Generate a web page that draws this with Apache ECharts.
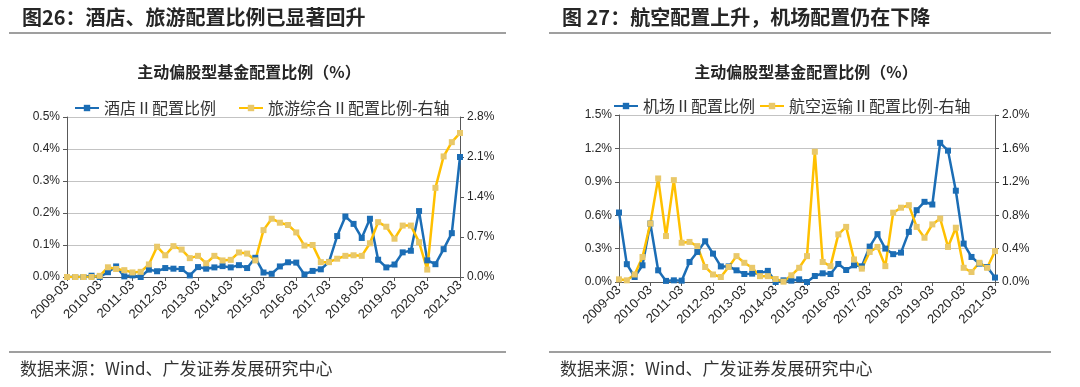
<!DOCTYPE html>
<html>
<head>
<meta charset="utf-8">
<script src="https://cdn.jsdelivr.net/npm/echarts@6/dist/echarts.min.js"></script>
<style>
html,body{margin:0;padding:0;background:#fff;}
#c{width:1080px;height:387px;}
</style>
</head>
<body>
<div id="c"></div>
<script>
const categories = [
 '2009-03','2009-06','2009-09','2009-12','2010-03','2010-06','2010-09','2010-12',
 '2011-03','2011-06','2011-09','2011-12','2012-03','2012-06','2012-09','2012-12',
 '2013-03','2013-06','2013-09','2013-12','2014-03','2014-06','2014-09','2014-12',
 '2015-03','2015-06','2015-09','2015-12','2016-03','2016-06','2016-09','2016-12',
 '2017-03','2017-06','2017-09','2017-12','2018-03','2018-06','2018-09','2018-12',
 '2019-03','2019-06','2019-09','2019-12','2020-03','2020-06','2020-09','2020-12',
 '2021-03'];

// Left chart (%)
const hotel = [0, 0, 0, 0.004, 0, 0.015, 0.033, 0.002, 0.005, 0,
 0.023, 0.018, 0.028, 0.026, 0.025, 0.005, 0.031, 0.026, 0.03, 0.034,
 0.03, 0.037, 0.028, 0.06, 0.014, 0.01, 0.033, 0.046, 0.045, 0.008,
 0.019, 0.024, 0.047, 0.128, 0.189, 0.166, 0.122, 0.182, 0.054, 0.03,
 0.039, 0.077, 0.082, 0.206, 0.052, 0.04, 0.087, 0.137, 0.375];
const tourism = [0, 0, 0, 0, 0.02, 0.17, 0.14, 0.12, 0.08, 0.09,
 0.22, 0.53, 0.38, 0.54, 0.48, 0.33, 0.37, 0.24, 0.37, 0.29,
 0.30, 0.43, 0.41, 0.29, 0.82, 1.02, 0.95, 0.91, 0.78, 0.55,
 0.56, 0.26, 0.26, 0.32, 0.37, 0.38, 0.37, 0.59, 0.96, 0.88,
 0.67, 0.90, 0.90, 0.61, 0.13, 1.56, 2.11, 2.36, 2.52];

// Right chart (%)
const airport = [0.624, 0.16, 0.045, 0.15, 0.525, 0.105, 0.01, 0.015, 0.012, 0.18,
 0.27, 0.366, 0.255, 0.14, 0.14, 0.105, 0.072, 0.075, 0.08, 0.1,
 0.0, 0.015, 0.012, 0.024, 0.0, 0.054, 0.078, 0.072, 0.162, 0.108,
 0.15, 0.141, 0.318, 0.43, 0.30, 0.25, 0.264, 0.45, 0.645, 0.72,
 0.696, 1.25, 1.18, 0.82, 0.345, 0.225, 0.165, 0.135, 0.04];
const aviation = [0.032, 0.02, 0.09, 0.30, 0.70, 1.24, 0.55, 1.22, 0.47, 0.48,
 0.43, 0.18, 0.09, 0.06, 0.18, 0.31, 0.23, 0.17, 0.07, 0.07,
 0.036, 0.004, 0.08, 0.17, 0.31, 1.56, 0.24, 0.19, 0.57, 0.66,
 0.27, 0.16, 0.36, 0.42, 0.19, 0.83, 0.89, 0.92, 0.66, 0.53,
 0.69, 0.76, 0.42, 0.65, 0.17, 0.12, 0.23, 0.17, 0.37];

const names = {
  hotel: '酒店Ⅱ配置比例',
  tourism: '旅游综合Ⅱ配置比例-右轴',
  airport: '机场Ⅱ配置比例',
  aviation: '航空运输Ⅱ配置比例-右轴'
};
const panelTitles = ['图26：酒店、旅游配置比例已显著回升', '图 27：航空配置上升，机场配置仍在下降'];
const chartTitle = '主动偏股型基金配置比例（%）';
const sourceText = '数据来源：Wind、广发证券发展研究中心';

const BLUE = '#1B6DB5', YEL = '#FFC000', YELM = '#E9C869';
const NUM_FONT = 'Liberation Sans, Arial, sans-serif';
const CJK_FONT = '"Noto Sans CJK SC", sans-serif';

function xAxis(gi) {
  return {
    type: 'category', gridIndex: gi, data: categories, boundaryGap: false,
    axisLine: {lineStyle: {color: '#595959', width: 1}},
    axisTick: {interval: 3, length: 4, lineStyle: {color: '#595959'}},
    axisLabel: {interval: 3, rotate: 45, fontSize: 13, color: '#262626', fontFamily: NUM_FONT, margin: 6},
    splitLine: {show: false}
  };
}
function yAxis(gi, pos, max, itv, split) {
  return {
    type: 'value', gridIndex: gi, position: pos, min: 0, max: max, interval: itv,
    axisLine: {show: true, lineStyle: {color: '#595959', width: 1}},
    axisTick: {show: true, length: 4, lineStyle: {color: '#595959'}},
    axisLabel: {fontSize: 12, color: '#262626', fontFamily: NUM_FONT, margin: 7,
      formatter: v => v.toFixed(1) + '%'},
    splitLine: {show: split, lineStyle: {color: '#c3c3c3', width: 1}}
  };
}
function lineSeries(name, data, xi, yi, color, mcolor) {
  return {
    name: name, type: 'line', xAxisIndex: xi, yAxisIndex: yi, data: data,
    symbol: 'rect', symbolSize: 6, showAllSymbol: true,
    lineStyle: {color: color, width: 2.5},
    itemStyle: {color: mcolor, borderWidth: 0},
    emphasis: {disabled: true}, animation: false
  };
}

const chart = echarts.init(document.getElementById('c'), null, {renderer: 'canvas'});
chart.setOption({
  backgroundColor: '#fff',
  animation: false,
  grid: [
    {left: 67, top: 117, width: 393, height: 160},
    {left: 619, top: 115, width: 376, height: 167}
  ],
  xAxis: [xAxis(0), xAxis(1)],
  yAxis: [
    yAxis(0, 'left', 0.5, 0.1, true),
    yAxis(0, 'right', 2.8, 0.7, false),
    yAxis(1, 'left', 1.5, 0.3, true),
    yAxis(1, 'right', 2.0, 0.4, false)
  ],
  legend: [
    {data: [names.hotel, names.tourism], left: 69, top: 95, itemGap: 22, itemWidth: 24, itemHeight: 8,
     textStyle: {fontSize: 16, color: '#333', fontFamily: CJK_FONT}},
    {data: [names.airport, names.aviation], left: 608, top: 93, itemGap: 4, itemWidth: 24, itemHeight: 8,
     textStyle: {fontSize: 16, color: '#333', fontFamily: CJK_FONT}}
  ],
  series: [
    lineSeries(names.hotel, hotel, 0, 0, BLUE, BLUE),
    lineSeries(names.tourism, tourism, 0, 1, YEL, YELM),
    lineSeries(names.airport, airport, 1, 2, BLUE, BLUE),
    lineSeries(names.aviation, aviation, 1, 3, YEL, YELM)
  ],
  graphic: [
    {type: 'text', x: 22, y: 17, style: {text: panelTitles[0], font: 'bold 20px ' + CJK_FONT, fill: '#262626', textVerticalAlign: 'middle'}},
    {type: 'text', x: 562, y: 17, style: {text: panelTitles[1], font: 'bold 20px ' + CJK_FONT, fill: '#262626', textVerticalAlign: 'middle'}},
    {type: 'line', shape: {x1: 9, y1: 33, x2: 506, y2: 33}, style: {stroke: '#7f7f7f', lineWidth: 1.5}},
    {type: 'line', shape: {x1: 549, y1: 33, x2: 1051, y2: 33}, style: {stroke: '#7f7f7f', lineWidth: 1.5}},
    {type: 'text', x: 249, y: 72, style: {text: chartTitle, font: 'bold 16px ' + CJK_FONT, fill: '#262626', textAlign: 'center', textVerticalAlign: 'middle'}},
    {type: 'text', x: 806, y: 72, style: {text: chartTitle, font: 'bold 16px ' + CJK_FONT, fill: '#262626', textAlign: 'center', textVerticalAlign: 'middle'}},
    {type: 'line', shape: {x1: 9, y1: 352, x2: 506, y2: 352}, style: {stroke: '#7f7f7f', lineWidth: 1.5}},
    {type: 'line', shape: {x1: 549, y1: 352, x2: 1051, y2: 352}, style: {stroke: '#7f7f7f', lineWidth: 1.5}},
    {type: 'text', x: 20, y: 369, style: {text: sourceText, font: '17px ' + CJK_FONT, fill: '#333', textVerticalAlign: 'middle'}},
    {type: 'text', x: 560, y: 369, style: {text: sourceText, font: '17px ' + CJK_FONT, fill: '#333', textVerticalAlign: 'middle'}}
  ]
});
</script>
</body>
</html>
